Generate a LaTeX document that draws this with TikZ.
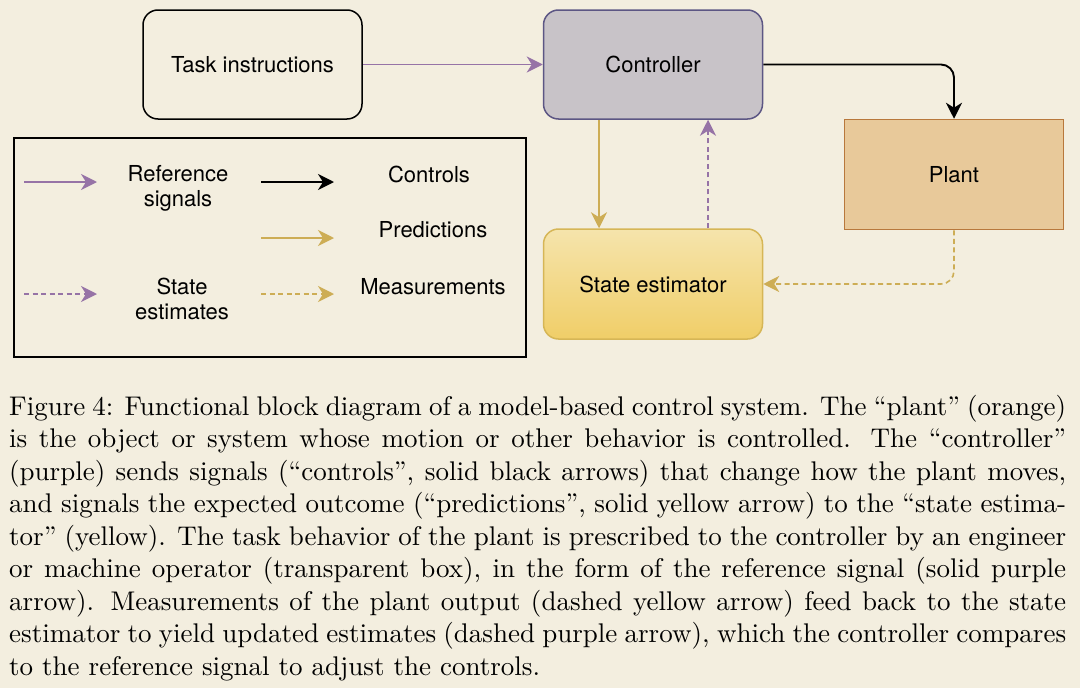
\documentclass[tikz,border=0pt]{standalone}
\usepackage{fontspec}
\newfontfamily\labfont{TeX Gyre Heros}
\newfontfamily\capfont{lmroman10-regular.otf}[Ligatures=TeX]
\usetikzlibrary{arrows.meta}
\definecolor{bgc}{RGB}{243,238,223}
\definecolor{ctrlfill}{RGB}{200,195,200}
\definecolor{ctrldraw}{RGB}{92,86,132}
\definecolor{plantfill}{RGB}{232,201,154}
\definecolor{plantdraw}{RGB}{184,120,60}
\definecolor{esttop}{RGB}{245,228,172}
\definecolor{estbot}{RGB}{240,206,104}
\definecolor{estdraw}{RGB}{214,182,86}
\definecolor{purp}{RGB}{150,115,166}
\definecolor{yell}{RGB}{205,173,85}
\tikzset{
  box/.style={minimum width=219pt, minimum height=109pt, inner sep=0pt, line width=1.5pt, font=\labfont\fontsize{22}{25}\selectfont},
  rbox/.style={box, rounded corners=15pt},
  lab/.style={inner sep=0pt, anchor=base, align=center, font=\labfont\fontsize{22}{25}\selectfont},
  tip/.style={-{Stealth[length=16pt, width=16pt, inset=5pt]}},
  refsig/.style={tip, draw=purp, line width=1.6pt},
  ctl/.style={tip, draw=black, line width=1.9pt},
  pred/.style={tip, draw=yell, line width=1.6pt},
  stest/.style={tip, draw=purp, line width=1.6pt, dash pattern=on 5pt off 3.5pt},
  meas/.style={tip, draw=yell, line width=1.6pt, dash pattern=on 5pt off 3.5pt},
}
\begin{document}
\begin{tikzpicture}[x=1pt,y=-1pt]
\fill[bgc] (0,0) rectangle (1080,688);
\useasboundingbox (0,0) rectangle (1080,688);

% main blocks
\node[rbox, draw=black] (task) at (252.5,64.5) {Task instructions};
\node[rbox, draw=ctrldraw, fill=ctrlfill] (ctrl) at (653,64.5) {Controller};
\node[box, draw=plantdraw, fill=plantfill, minimum width=219pt, minimum height=110pt] (plant) at (954,174.5) {Plant};
\node[rbox, draw=estdraw, top color=esttop, bottom color=estbot, minimum height=110pt] (est) at (653,284) {State estimator};

% connectors
\draw[refsig] (task.east) -- (ctrl.west);
\draw[ctl, rounded corners=13pt] (ctrl.east) -| (plant.north);
\draw[pred] ([xshift=-54pt]ctrl.south) -- ([xshift=-54pt]est.north);
\draw[stest] ([xshift=55pt]est.north) -- ([xshift=55pt]ctrl.south);
\draw[meas, rounded corners=13pt] (plant.south) |- (est.east);

% legend
\node[draw=black, line width=1.8pt, minimum width=512pt, minimum height=219pt, inner sep=0pt] (legend) at (270,247.5) {};
\coordinate (l1a) at (24,182);  \coordinate (l1b) at (97,182);
\coordinate (l2a) at (261,182); \coordinate (l2b) at (334,182);
\coordinate (l3a) at (261,238); \coordinate (l3b) at (334,238);
\coordinate (l4a) at (24,294);  \coordinate (l4b) at (97,294);
\coordinate (l5a) at (261,294); \coordinate (l5b) at (334,294);
\draw[refsig] (l1a) -- (l1b);
\draw[ctl] (l2a) -- (l2b);
\draw[pred] (l3a) -- (l3b);
\draw[stest] (l4a) -- (l4b);
\draw[meas] (l5a) -- (l5b);
\node[lab] (tref) at (178,206.5) {Reference\\signals};
\node[lab] (tctl) at (429,182) {Controls};
\node[lab] (tpred) at (433,237.5) {Predictions};
\node[lab] (test) at (182,319.5) {State\\estimates};
\node[lab] (tmeas) at (433,294.5) {Measurements};

% caption
\node[anchor=base west, inner sep=0pt, text width=1057pt, align=justify,
      font=\capfont\fontsize{27}{32.5}\selectfont] (cap) at (9,415) {%
Figure 4: Functional block diagram of a model-based control system. The ``plant'' (orange)\linebreak
is the object or system whose motion or other behavior is controlled. The ``controller''\linebreak
(purple) sends signals (``controls'', solid black arrows) that change how the plant moves,\linebreak
and signals the expected outcome (``predictions'', solid yellow arrow) to the ``state estima-\linebreak
tor'' (yellow). The task behavior of the plant is prescribed to the controller by an engineer\linebreak
or machine operator (transparent box), in the form of the reference signal (solid purple\linebreak
arrow). Measurements of the plant output (dashed yellow arrow) feed back to the state\linebreak
estimator to yield updated estimates (dashed purple arrow), which the controller compares\linebreak
to the reference signal to adjust the controls.};
\end{tikzpicture}
\end{document}
